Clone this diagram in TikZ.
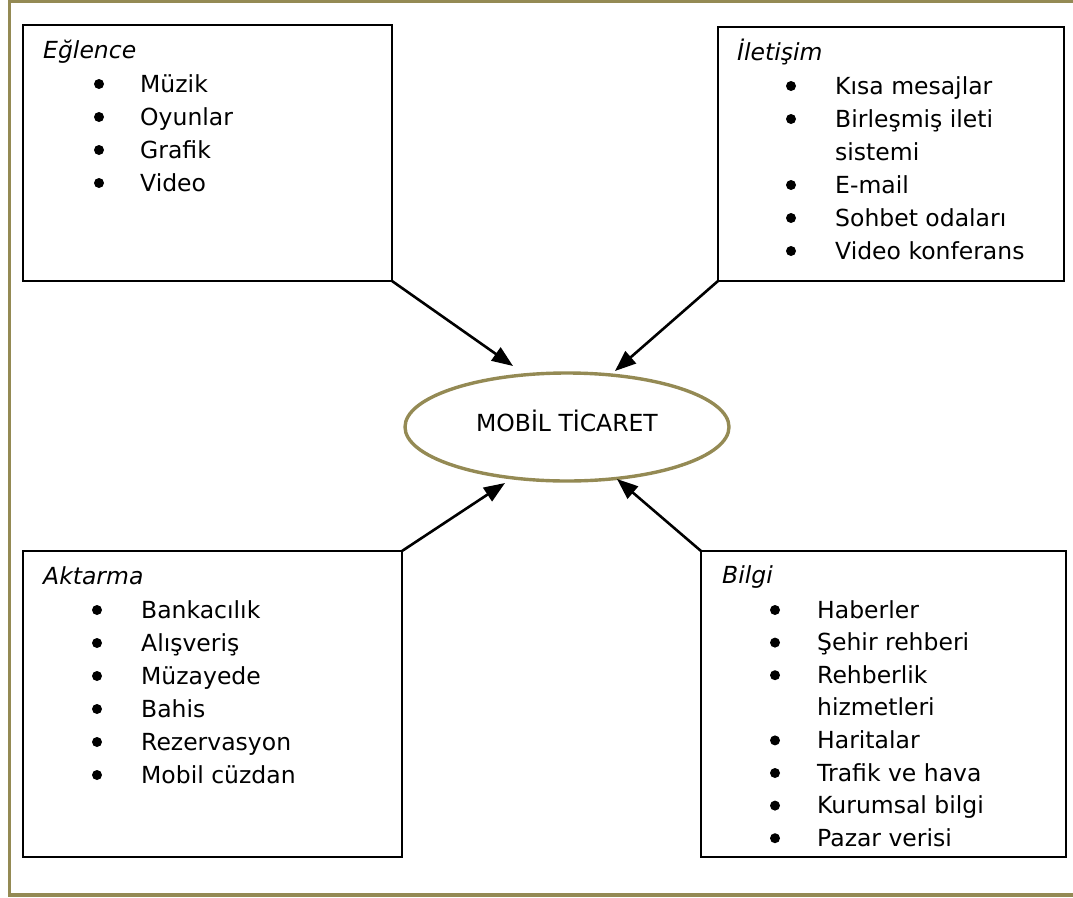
\documentclass[tikz,border=0pt]{standalone}
\usepackage{fontspec}
\setmainfont{DejaVu Sans}
\usetikzlibrary{shapes.geometric,arrows.meta}
\definecolor{frameolive}{HTML}{948A54}
\newcommand\bodysize{\fontsize{23.5}{33}\selectfont}
\tikzset{
  box/.style={draw=black, line width=1.4pt, rectangle, inner sep=0pt, outer sep=0pt},
  head/.style={anchor=base west, inner sep=0pt, font=\bodysize\itshape},
  entry/.style={anchor=base west, inner sep=0pt, font=\bodysize},
  dot/.style={fill=black, circle, inner sep=0pt, minimum size=10pt},
  link/.style={line width=2.6pt, -{Triangle[length=21pt,width=16pt]}},
  hub/.style={ellipse, draw=frameolive, line width=3.4pt, inner sep=0pt,
              minimum width=324pt, minimum height=108pt, font=\bodysize}
}
\begin{document}
\begin{tikzpicture}[x=1pt, y=-1pt]
\useasboundingbox (0,0) rectangle (1073,897);
% outer frame (open on the right)
\begin{scope}
  \clip (0,0) rectangle (1073,897);
  \draw[frameolive, line width=3.3pt] (1090,1.3) -- (9.5,1.3) -- (9.5,895) -- (1090,895);
\end{scope}

% four category boxes
\node[box, minimum width=369pt, minimum height=256pt] (ent) at (207.5,153) {};
\node[box, minimum width=346pt, minimum height=254pt] (com) at (891,154) {};
\node[box, minimum width=379pt, minimum height=306pt] (trn) at (212.5,704) {};
\node[box, minimum width=365pt, minimum height=306pt] (inf) at (883.5,704) {};

% central hub
\node[hub] (hub) at (567,427) {};
\node[entry, anchor=base] (hubtext) at (567,431) {MOBİL TİCARET};

% Eğlence
\node[head] (enth) at (43,58) {Eğlence};
\foreach \t [count=\i from 0] in {Müzik, Oyunlar, Grafik, Video} {
  \node[dot] (entd\i) at (99,92+33*\i-8) {};
  \node[entry] (entt\i) at (140,92+33*\i) {\t};
}

% İletişim
\node[head] (comh) at (737,60) {İletişim};
\node[dot] (comd0) at (791,94-8) {};
\node[entry] (comt0) at (835,94) {Kısa mesajlar};
\node[dot] (comd1) at (791,127-8) {};
\node[entry] (comt1) at (835,127) {Birleşmiş ileti};
\node[entry] (comt1b) at (835,160) {sistemi};
\foreach \t [count=\i from 2] in {E-mail, Sohbet odaları, Video konferans} {
  \node[dot] (comd\i) at (791,127+33*\i-8) {};
  \node[entry] (comt\i) at (835,127+33*\i) {\t};
}

% Aktarma
\node[head] (trnh) at (43,584) {Aktarma};
\foreach \t [count=\i from 0] in {Bankacılık, Alışveriş, Müzayede, Bahis, Rezervasyon, Mobil cüzdan} {
  \node[dot] (trnd\i) at (97,618+33*\i-8) {};
  \node[entry] (trnt\i) at (141,618+33*\i) {\t};
}

% Bilgi
\node[head] (infh) at (722,583) {Bilgi};
\node[dot] (infd0) at (775,618-8) {};
\node[entry] (inft0) at (817,618) {Haberler};
\node[dot] (infd1) at (775,650.6-8) {};
\node[entry] (inft1) at (817,650.6) {Şehir rehberi};
\node[dot] (infd2) at (775,683.2-8) {};
\node[entry] (inft2) at (817,683.2) {Rehberlik};
\node[entry] (inft2b) at (817,715.8) {hizmetleri};
\foreach \t [count=\i from 3] in {Haritalar, Trafik ve hava, Kurumsal bilgi, Pazar verisi} {
  \node[dot] (infd\i) at (775,618+32.6*\i+32.6-8) {};
  \node[entry] (inft\i) at (817,618+32.6*\i+32.6) {\t};
}

% connectors into the hub
\coordinate (tipent) at (513,366);
\coordinate (tipcom) at (615,371);
\coordinate (tiptrn) at (505,483);
\coordinate (tipinf) at (617,479);
\draw[link] (ent.south east) -- (tipent);
\draw[link] (com.south west) -- (tipcom);
\draw[link] (trn.north east) -- (tiptrn);
\draw[link] (inf.north west) -- (tipinf);
\end{tikzpicture}
\end{document}
